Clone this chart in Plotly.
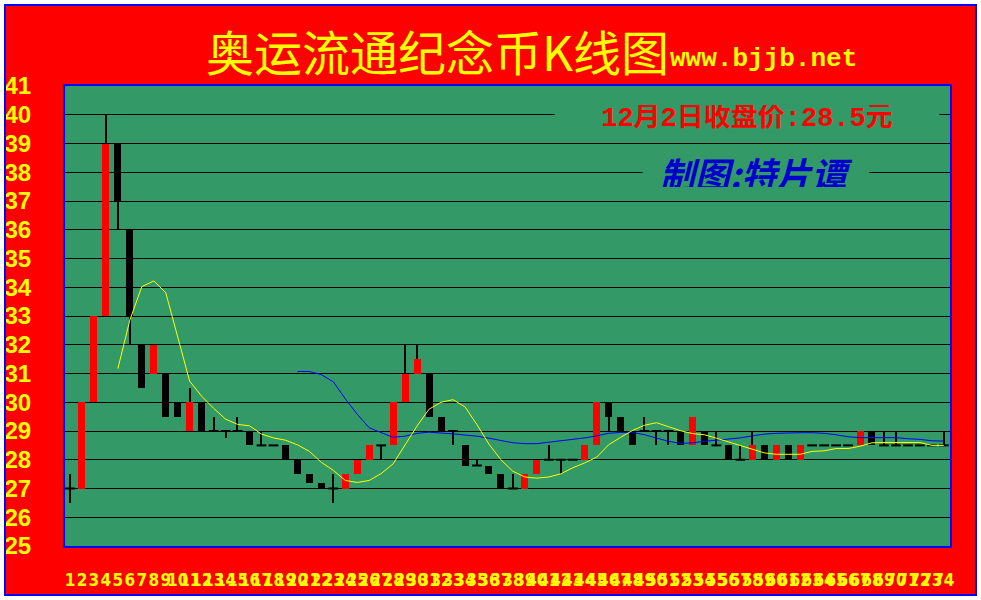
import plotly.graph_objects as go

# ---------------- data ----------------
days = list(range(1, 75))
x_labels = [str(d) for d in days]
y_ticks = list(range(25, 42))

opens = [27, 27, 30, 33, 39, 36, 32, 31, 31, 30,
         29, 30, 29, 29, 29, 29, 28.5, 28.5, 28.5, 28,
         27.5, 27.2, 27, 27, 27.5, 28, 28.5, 28.5, 30, 31,
         31, 29.5, 29, 28.5, 27.8, 27.8, 27.5, 27, 27, 27.5,
         28, 28, 28, 28, 28.5, 30, 29.5, 29, 29, 29,
         29, 29, 28.5, 29, 28.5, 28.5, 28, 28, 28.5, 28,
         28.5, 28, 28.5, 28.5, 28.5, 28.5, 28.5, 29, 28.5, 28.5,
         28.5, 28.5, 28.5, 28.5]
highs = [27.5, 30, 33, 40, 39, 36, 32, 32, 31, 30,
         30.5, 30, 29.5, 29, 29.5, 29, 29, 28.5, 28.5, 28,
         27.5, 27.2, 27.5, 27.5, 28, 28.5, 28.5, 30, 32, 32,
         31, 29.5, 29, 28.5, 28, 27.8, 27.5, 27.5, 27.5, 28,
         28.5, 28, 28, 28.5, 30, 30, 29.5, 29, 29.5, 29,
         29, 29, 29.5, 29, 29, 28.5, 28.5, 29, 28.5, 28.5,
         28.5, 28.5, 28.5, 28.5, 28.5, 28.5, 29, 29, 29, 29,
         28.5, 28.5, 28.5, 29]
lows = [26.5, 27, 30, 33, 36, 32, 30.5, 31, 29.5, 29.5,
        29, 29, 29, 28.75, 29, 28.5, 28.5, 28.5, 28, 27.5,
        27.2, 27, 26.5, 27, 27.5, 28, 28, 28.5, 30, 31,
        29.5, 29, 28.5, 27.8, 27.8, 27.5, 27, 27, 27, 27.5,
        28, 27.5, 28, 28, 28.5, 29, 29, 28.5, 29, 28.5,
        28.5, 28.5, 28.5, 28.5, 28.5, 28, 28, 28, 28, 28,
        28, 28, 28.5, 28.5, 28.5, 28.5, 28.5, 28.5, 28.5, 28.5,
        28.5, 28.5, 28.5, 28.5]
closes = [27, 30, 33, 39, 37, 33, 30.5, 32, 29.5, 29.5,
          30, 29, 29, 29, 29, 28.5, 28.5, 28.5, 28, 27.5,
          27.2, 27, 27, 27.5, 28, 28.5, 28.5, 30, 31, 31.5,
          29.5, 29, 29, 27.8, 27.8, 27.5, 27, 27, 27.5, 28,
          28, 28, 28, 28.5, 30, 29.5, 29, 28.5, 29, 29,
          29, 28.5, 29.5, 28.5, 28.5, 28, 28, 28.5, 28, 28.5,
          28, 28.5, 28.5, 28.5, 28.5, 28.5, 29, 28.5, 28.5, 28.5,
          28.5, 28.5, 28.5, 28.5]

ma_yellow_x = list(range(5, 75))
ma_yellow = [31.17, 32.86, 34.02, 34.22, 33.81, 32.3, 30.73, 30.21, 29.79, 29.41,
             29.23, 29.18, 28.89, 28.76, 28.68, 28.52, 28.29, 27.91, 27.63, 27.28,
             27.21, 27.28, 27.52, 27.86, 28.5, 29.18, 29.76, 30.0, 30.09, 29.84,
             29.22, 28.54, 28.0, 27.6, 27.4, 27.36, 27.4, 27.51, 27.72, 27.89,
             28.09, 28.52, 28.78, 29.02, 29.2, 29.29, 29.15, 29.01, 28.91, 28.87,
             28.75, 28.62, 28.48, 28.35, 28.24, 28.19, 28.19, 28.19, 28.29, 28.31,
             28.39, 28.39, 28.47, 28.59, 28.6, 28.6, 28.6, 28.6, 28.5, 28.5]

ma_blue_x = list(range(20, 75))
ma_blue = [31.07, 31.07, 30.96, 30.71, 30.12, 29.58, 29.11, 28.94, 28.78, 28.82,
           28.92, 28.96, 28.94, 28.9, 28.86, 28.82, 28.75, 28.66, 28.59, 28.56,
           28.56, 28.61, 28.66, 28.69, 28.76, 28.83, 28.92, 28.95, 28.95, 28.87,
           28.75, 28.64, 28.57, 28.59, 28.64, 28.68, 28.7, 28.76, 28.83, 28.89,
           28.92, 28.94, 28.94, 28.94, 28.92, 28.87, 28.8, 28.77, 28.77, 28.77,
           28.77, 28.73, 28.71, 28.66, 28.65]

title_text = "奥运流通纪念币K线图"
site_text = "www.bjjb.net"
price_text = "12月2日收盘价:28.5元"
author_text = "制图:特片谭"

# ---------------- styles / layout geometry ----------------
W, H = 981, 600
L, R, T, B = 65, 31, 86, 54
PW, PH = W - L - R, H - T - B
RED = "#ff0000"
BLUE = "#0000ff"
YELLOW = "#ffff00"
GREEN = "#339966"
STEP = 11.97  # pixels per trading day


def px(xpix):
    return (xpix - L) / PW


def py(ypix):
    return (H - B - ypix) / PH


fig = go.Figure()

# wicks (bars 1px wide, drawn first so bodies cover them)
wx, wbase, wh = [], [], []
for d, h, l in zip(days, highs, lows):
    if h > l:
        wx.append(d)
        wbase.append(l)
        wh.append(h - l)
fig.add_trace(go.Bar(x=wx, y=wh, base=wbase, width=1.2 / STEP,
                     marker=dict(color="black", line=dict(width=0)),
                     hoverinfo="skip", showlegend=False))

# bodies
bx, bbase, bh, bcol = [], [], [], []
for d, o, c in zip(days, opens, closes):
    if o != c:
        bx.append(d)
        bbase.append(min(o, c))
        bh.append(abs(c - o))
        bcol.append(RED if c > o else "black")
fig.add_trace(go.Bar(x=bx, y=bh, base=bbase, width=7 / STEP,
                     marker=dict(color=bcol, line=dict(width=0)),
                     showlegend=False))

# doji dashes
dx = [d for d, o, c in zip(days, opens, closes) if o == c]
dy = [c for o, c in zip(opens, closes) if o == c]
fig.add_trace(go.Scatter(x=dx, y=dy, mode="markers",
                         marker=dict(symbol="line-ew", size=7,
                                     line=dict(width=2, color="black")),
                         showlegend=False))

# moving average lines
fig.add_trace(go.Scatter(x=ma_blue_x, y=ma_blue, mode="lines",
                         line=dict(color=BLUE, width=1), showlegend=False))
fig.add_trace(go.Scatter(x=ma_yellow_x, y=ma_yellow, mode="lines",
                         line=dict(color=YELLOW, width=1), showlegend=False))

fig.update_layout(
    width=W, height=H, autosize=False,
    margin=dict(l=L, r=R, t=T, b=B, pad=0, autoexpand=False),
    paper_bgcolor=RED, plot_bgcolor=GREEN,
    barmode="overlay", bargap=0,
    showlegend=False,
    xaxis=dict(range=[1 - 5 / STEP, 1 + (PW - 5) / STEP],
               tickmode="array", tickvals=days, ticktext=x_labels,
               tickangle=0, ticks="", showgrid=False, zeroline=False,
               showline=True, linecolor=BLUE, linewidth=2, mirror=True,
               automargin=False, ticklabelstandoff=18,
               tickfont=dict(family="Liberation Sans Narrow, DejaVu Sans Condensed, Arial",
                             size=17, color=YELLOW, weight="bold")),
    yaxis=dict(range=[25, 41], tickmode="array", tickvals=y_ticks,
               ticks="", showgrid=True, gridcolor="black", gridwidth=1,
               zeroline=False, showline=True, linecolor=BLUE, linewidth=2,
               mirror=True, automargin=False, ticklabelstandoff=27,
               tickfont=dict(family="Liberation Sans, Arial", size=24,
                             color=YELLOW, weight="bold")),
    shapes=[
        dict(type="rect", xref="paper", yref="paper",
             x0=px(0), x1=px(W), y0=py(0), y1=py(H),
             line=dict(color="white", width=8), layer="above"),
        dict(type="rect", xref="paper", yref="paper",
             x0=px(5), x1=px(976), y0=py(5), y1=py(595),
             line=dict(color=BLUE, width=2), layer="above"),
    ],
    annotations=[
        dict(text=title_text, xref="paper", yref="paper",
             x=px(204), y=py(50), xanchor="left", yanchor="middle",
             showarrow=False,
             font=dict(family="Noto Sans CJK SC", size=48, color=YELLOW)),
        dict(text=site_text, xref="paper", yref="paper",
             x=px(668), y=py(59), xanchor="left", yanchor="middle",
             showarrow=False,
             font=dict(family="Liberation Mono, Courier New", size=26,
                       color=YELLOW, weight="bold")),
        dict(text=price_text, xref="paper", yref="paper",
             x=px(747), y=py(118), xanchor="center", yanchor="middle",
             showarrow=False, bgcolor=GREEN, width=384, height=26, borderpad=0,
             font=dict(family="Liberation Mono, Noto Sans CJK SC", size=27,
                       color=RED, weight="bold")),
        dict(text=author_text, xref="paper", yref="paper",
             x=px(756), y=py(172), xanchor="center", yanchor="middle",
             showarrow=False, bgcolor=GREEN, width=226, height=30, borderpad=0,
             font=dict(family="Noto Sans CJK SC", size=35, color="#0000cc",
                       weight="bold", style="italic")),
    ],
)

fig.write_html("out.html", config={"displayModeBar": False},
               post_script="document.body.style.margin='0';document.body.style.overflow='hidden';")
